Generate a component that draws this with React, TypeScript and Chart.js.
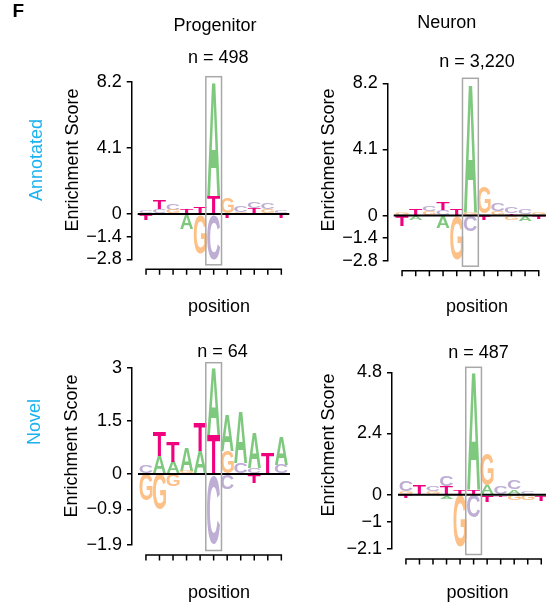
import React, { useEffect, useRef } from 'react';
import { Chart, registerables } from 'chart.js';

Chart.register(...registerables);

const FONT = '"Liberation Sans", Arial, Helvetica, sans-serif';

const positions = [-5, -4, -3, -2, -1, 0, 1, 2, 3, 4, 5];
const letters = ['A', 'C', 'G', 'T'];
const letterColors = ['#7fc97f', '#beaed4', '#fdc086', '#f0027f'];

// Panel 1: Progenitor, Annotated (n = 498)
const p1A = [0, 0, 0, -0.9, 0, 7.13, 0, 0, 0, 0, 0];
const p1C = [0.18, 0.31, 0.37, 0, 0, -2.8, 0, 0.39, 0.4, 0.36, 0.2];
const p1G = [0.05, 0, 0.25, 0, -2.44, 0, 1.0, 0.15, 0, 0.3, 0];
const p1T = [-0.35, 0.58, 0, 0.25, 0.47, 1.07, -0.25, 0, 0.35, 0, -0.27];
const p1TickLabels = ['\u22122.8', '\u22121.4', '0', '4.1', '8.2'];

// Panel 2: Neuron, Annotated (n = 3,220)
const p2A = [0, -0.3, 0, -0.8, 0, 8.0, 0, 0, 0, -0.35, 0];
const p2C = [0, 0, 0.31, 0.37, 0, -1.0, 0.15, 0.52, 0.4, 0.35, 0];
const p2G = [0.2, 0, 0.29, 0, -2.75, 0.2, 1.6, 0.3, -0.25, 0.1, 0.2];
const p2T = [-0.65, 0.45, 0, 0.48, 0.48, 0, -0.25, 0, 0.15, 0, -0.2];
const p2TickLabels = ['\u22122.8', '\u22121.4', '0', '4.1', '8.2'];

// Panel 3: Progenitor, Novel (n = 64)
const p3A = [0, 0.5, 0.35, 0.65, 0.64, 1.88, 1.0, 1.46, 0.98, 0, 0.8];
const p3C = [0.25, 0, 0, 0, 0, -1.95, -0.44, 0.3, 0.17, 0, 0.26];
const p3G = [-0.75, -1.0, -0.35, 0.08, 0, 0, 0.64, 0, 0, 0, 0];
const p3T = [0, 0.7, 0.57, 0, 0.79, 1.1, 0, 0, -0.25, 0.59, 0];
const p3TickLabels = ['\u22121.9', '\u22120.9', '0', '1.5', '3'];

// Panel 4: Neuron, Novel (n = 487)
const p4A = [0, 0, 0, -0.15, 0, 4.62, 0.38, 0, 0.2, 0, 0];
const p4C = [0.41, 0, 0.2, 0.42, 0, -0.9, 0, 0.35, 0.37, 0.15, 0];
const p4G = [0.14, 0, 0.15, 0, -2.05, 0, 1.24, 0, -0.23, -0.23, -0.05];
const p4T = [-0.13, 0.37, 0, 0.35, 0.2, 0.18, -0.27, -0.08, 0, 0, -0.2];
const p4TickLabels = ['\u22122.1', '\u22121', '0', '2.4', '4.8'];

type Panel = {
  values: number[][];
  yMin: number;
  yMax: number;
  tickLabels: string[];
  area: { left: number; top: number; right: number; bottom: number };
  xMin: number;
  xMax: number;
};

const panels: Panel[] = [
  { values: [p1A, p1C, p1G, p1T], yMin: -2.8, yMax: 8.2, tickLabels: p1TickLabels,
    area: { left: 131.7, top: 81.7, right: 289.3, bottom: 259.3 }, xMin: -6.06, xMax: 5.59 },
  { values: [p2A, p2C, p2G, p2T], yMin: -2.8, yMax: 8.2, tickLabels: p2TickLabels,
    area: { left: 387.7, top: 83.3, right: 546, bottom: 260.7 }, xMin: -6.05, xMax: 5.53 },
  { values: [p3A, p3C, p3G, p3T], yMin: -1.99, yMax: 2.98, tickLabels: p3TickLabels,
    area: { left: 132, top: 367.7, right: 290, bottom: 545 }, xMin: -6.03, xMax: 5.64 },
  { values: [p4A, p4C, p4G, p4T], yMin: -2.13, yMax: 4.8, tickLabels: p4TickLabels,
    area: { left: 392, top: 372.3, right: 546, bottom: 549 }, xMin: -6.03, xMax: 5.35 },
];

function buildBars(values: number[][], li: number) {
  const out: { x: number; y: [number, number] }[] = [];
  positions.forEach((pos, j) => {
    const entries = values.map((arr, k) => ({ k, v: arr[j] })).filter((e) => e.v !== 0);
    const pos_ = entries.filter((e) => e.v > 0).sort((a, b) => a.v - b.v);
    const neg_ = entries.filter((e) => e.v < 0).sort((a, b) => b.v - a.v);
    let acc = 0;
    for (const e of pos_) {
      if (e.k === li) out.push({ x: pos, y: [acc, acc + e.v] });
      acc += e.v;
    }
    acc = 0;
    for (const e of neg_) {
      if (e.k === li) out.push({ x: pos, y: [acc + e.v, acc] });
      acc += e.v;
    }
  });
  return out;
}

const glyphCache: Record<string, { l: number; r: number; a: number; d: number }> = {};

function drawGlyph(ctx: CanvasRenderingContext2D, ch: string, x0: number, top: number, w: number, h: number, color: string) {
  ctx.save();
  ctx.font = `bold 100px ${FONT}`;
  ctx.textAlign = 'left';
  ctx.textBaseline = 'alphabetic';
  let m = glyphCache[ch];
  if (!m) {
    const t = ctx.measureText(ch);
    m = { l: t.actualBoundingBoxLeft, r: t.actualBoundingBoxRight, a: t.actualBoundingBoxAscent, d: t.actualBoundingBoxDescent };
    glyphCache[ch] = m;
  }
  const gw = m.l + m.r;
  const gh = m.a + m.d;
  ctx.translate(x0, top);
  ctx.scale(w / gw, h / gh);
  ctx.fillStyle = color;
  ctx.fillText(ch, m.l, m.a);
  ctx.restore();
}

const logoPlugin = {
  id: 'logoLetters',
  afterDatasetsDraw(chart: any) {
    const ctx: CanvasRenderingContext2D = chart.ctx;
    const xs = chart.scales.x;
    const ys = chart.scales.y;
    const area = chart.chartArea;
    chart.data.datasets.forEach((ds: any, di: number) => {
      const meta = chart.getDatasetMeta(di);
      meta.data.forEach((bar: any) => {
        const { x, y, base, width } = bar.getProps(['x', 'y', 'base', 'width'], true);
        const top = Math.min(y, base);
        const h = Math.abs(base - y);
        if (h < 0.3) return;
        drawGlyph(ctx, ds.label, x - width * 0.48, top, width * 0.96, h, letterColors[di]);
      });
    });
    ctx.save();
    ctx.strokeStyle = '#000';
    // zero line
    const y0 = ys.getPixelForValue(0);
    ctx.lineWidth = 2;
    ctx.beginPath();
    ctx.moveTo(area.left + 6, y0);
    ctx.lineTo(area.right, y0);
    ctx.stroke();
    // position axis
    const yt = area.bottom + 10;
    const xa = xs.getPixelForValue(positions[0]);
    const xb = xs.getPixelForValue(positions[positions.length - 1]);
    ctx.lineWidth = 1.5;
    ctx.beginPath();
    ctx.moveTo(xa - 0.75, yt);
    ctx.lineTo(xb + 0.75, yt);
    positions.forEach((p) => {
      const px = xs.getPixelForValue(p);
      ctx.moveTo(px, yt);
      ctx.lineTo(px, yt + 5.5);
    });
    ctx.stroke();
    // highlight box around center column
    const xl = xs.getPixelForValue(-0.58);
    const xr = xs.getPixelForValue(0.58);
    ctx.strokeStyle = '#a8a8a8';
    ctx.lineWidth = 1.5;
    ctx.strokeRect(xl, area.top - 5, xr - xl, area.bottom - area.top + 10.5);
    ctx.restore();
  },
};

function LogoChart({ panel }: { panel: Panel }) {
  const ref = useRef<HTMLCanvasElement | null>(null);
  useEffect(() => {
    if (!ref.current) return;
    const tickVals = [panel.yMin, panel.yMin / 2, 0, panel.yMax / 2, panel.yMax];
    const chart = new Chart(ref.current, {
      type: 'bar',
      data: {
        datasets: letters.map((L, li) => ({
          label: L,
          data: buildBars(panel.values, li) as any,
          backgroundColor: 'rgba(0,0,0,0)',
          borderWidth: 0,
          grouped: false,
          barPercentage: 1,
          categoryPercentage: 1,
        })),
      },
      options: {
        responsive: false,
        animation: false,
        devicePixelRatio: 1,
        events: [],
        layout: {
          padding: { left: 0, top: panel.area.top, right: 546 - panel.area.right, bottom: 605 - panel.area.bottom },
        },
        plugins: { legend: { display: false }, tooltip: { enabled: false }, title: { display: false } },
        scales: {
          x: { type: 'linear', min: panel.xMin, max: panel.xMax, display: false, offset: false },
          y: {
            type: 'linear',
            min: panel.yMin,
            max: panel.yMax,
            afterFit: (s: any) => { s.width = panel.area.left; },
            afterBuildTicks: (s: any) => { s.ticks = tickVals.map((v) => ({ value: v })); },
            ticks: {
              autoSkip: false,
              padding: 5,
              color: '#000',
              font: { family: FONT, size: 18 },
              callback: (_v: any, i: number) => panel.tickLabels[i],
            },
            grid: { drawOnChartArea: false, drawTicks: true, tickLength: 5, color: '#000', lineWidth: 1.5 },
            border: { display: true, color: '#000', width: 1.5 },
          },
        },
      } as any,
      plugins: [logoPlugin],
    });
    return () => chart.destroy();
  }, [panel]);
  return (
    <canvas
      ref={ref}
      width={546}
      height={605}
      style={{ position: 'absolute', left: 0, top: 0, width: 546, height: 605 }}
    />
  );
}

type Lbl = { text: string; x: number; y: number; rot?: boolean; color?: string; bold?: boolean; size?: number };

const labels: Lbl[] = [
  { text: 'F', x: 18.3, y: 10.3, bold: true, size: 19 },
  { text: 'Progenitor', x: 215, y: 25.2 },
  { text: 'Neuron', x: 446.7, y: 21.7 },
  { text: 'n = 498', x: 218.3, y: 56.7 },
  { text: 'n = 3,220', x: 477, y: 61 },
  { text: 'n = 64', x: 222.5, y: 350.7 },
  { text: 'n = 487', x: 478.5, y: 352.4 },
  { text: 'position', x: 219, y: 306 },
  { text: 'position', x: 477, y: 306 },
  { text: 'position', x: 219, y: 591.7 },
  { text: 'position', x: 477.5, y: 591.7 },
  { text: 'Enrichment Score', x: 72, y: 160, rot: true },
  { text: 'Enrichment Score', x: 328, y: 160, rot: true },
  { text: 'Enrichment Score', x: 70.5, y: 446, rot: true },
  { text: 'Enrichment Score', x: 328, y: 445, rot: true },
  { text: 'Annotated', x: 36.3, y: 160, rot: true, color: '#1ab2f0' },
  { text: 'Novel', x: 34, y: 421.7, rot: true, color: '#1ab2f0' },
];

export default function App() {
  return (
    <div style={{ position: 'absolute', left: 0, top: 0, width: 546, height: 605, background: '#fff', fontFamily: FONT }}>
      {panels.map((p, i) => (
        <LogoChart key={i} panel={p} />
      ))}
      {labels.map((l, i) => (
        <div
          key={i}
          style={{
            position: 'absolute',
            left: l.x,
            top: l.y,
            transform: `translate(-50%, -50%)${l.rot ? ' rotate(-90deg)' : ''}`,
            whiteSpace: 'nowrap',
            lineHeight: 1,
            fontSize: l.size || 18,
            fontWeight: l.bold ? 'bold' : 'normal',
            color: l.color || '#000',
          }}
        >
          {l.text}
        </div>
      ))}
    </div>
  );
}
